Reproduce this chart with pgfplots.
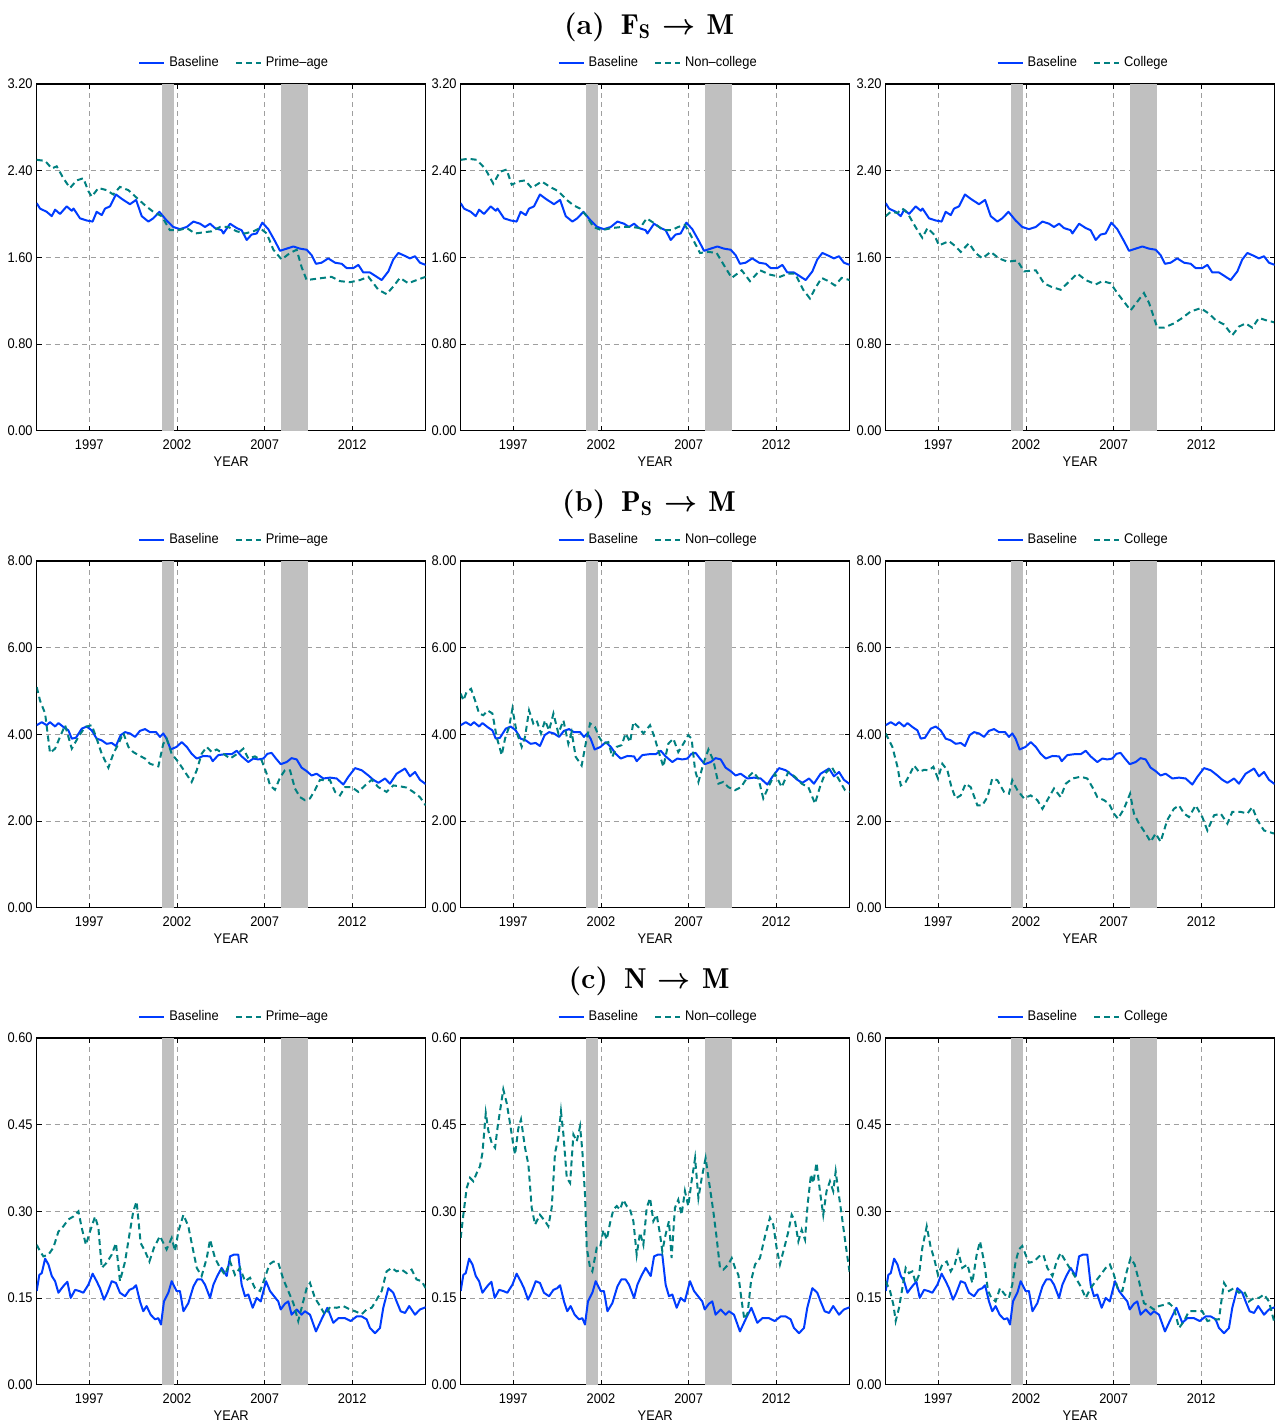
\documentclass[border=0pt]{standalone}
\usepackage{amsmath}
\usepackage{fontspec}
\usepackage{pgfplots}
\usepackage{pgfplotstable}
\pgfplotsset{compat=1.18}
\newfontfamily\arial[FakeStretch=0.92]{Liberation Sans}
\newcommand\tickfont{\arial\fontsize{7}{8.4}\selectfont}
\newcommand\titlefont{\fontsize{14.4}{17}\selectfont\bfseries}
\newcommand\barrow{\mathrel{\boldsymbol{\rightarrow}}}
\definecolor{blu}{RGB}{0,60,255}
\definecolor{tea}{RGB}{0,128,128}
\definecolor{recg}{RGB}{192,192,192}

% ---------- row (a) ----------
\pgfplotstableread{
x y
1994.00 2.10
1994.19 2.05
1994.57 2.02
1994.86 1.98
1995.05 2.04
1995.33 2.00
1995.71 2.07
1996.00 2.03
1996.10 2.05
1996.47 1.96
1996.85 1.94
1997.19 1.93
1997.42 2.02
1997.71 1.99
1997.90 2.05
1998.18 2.07
1998.52 2.18
1998.85 2.14
1999.32 2.09
1999.67 2.13
1999.99 1.98
2000.37 1.93
2000.65 1.96
2001.00 2.02
2001.41 1.94
2001.79 1.88
2002.17 1.86
2002.56 1.88
2002.94 1.93
2003.32 1.91
2003.60 1.88
2003.89 1.91
2004.17 1.87
2004.55 1.85
2004.65 1.82
2005.03 1.91
2005.41 1.87
2005.69 1.85
2005.98 1.76
2006.26 1.81
2006.55 1.82
2006.87 1.92
2007.21 1.86
2007.59 1.75
2007.88 1.66
2008.26 1.68
2008.64 1.70
2009.02 1.68
2009.40 1.67
2009.68 1.62
2009.93 1.54
2010.25 1.55
2010.63 1.59
2011.02 1.55
2011.40 1.54
2011.68 1.50
2012.06 1.50
2012.35 1.53
2012.63 1.46
2013.01 1.46
2013.30 1.43
2013.68 1.39
2014.06 1.47
2014.34 1.58
2014.63 1.64
2014.91 1.62
2015.29 1.59
2015.58 1.61
2015.86 1.55
2016.19 1.53
}\bA
\pgfplotstableread{
x y
1994.00 2.50
1994.48 2.49
1994.86 2.42
1995.14 2.44
1995.52 2.33
1995.90 2.24
1996.28 2.31
1996.66 2.33
1996.95 2.21
1997.14 2.16
1997.52 2.24
1997.99 2.22
1998.37 2.18
1998.75 2.25
1999.23 2.22
1999.70 2.15
2000.18 2.08
2000.65 2.02
2001.13 1.98
2001.60 1.85
2002.08 1.85
2002.56 1.87
2003.03 1.82
2003.51 1.83
2003.98 1.84
2004.46 1.88
2004.93 1.88
2005.41 1.84
2005.88 1.82
2006.36 1.84
2006.74 1.87
2007.12 1.82
2007.50 1.67
2007.97 1.58
2008.45 1.64
2008.83 1.67
2009.11 1.51
2009.40 1.39
2009.87 1.40
2010.35 1.41
2010.82 1.42
2011.30 1.38
2011.87 1.37
2012.44 1.39
2012.92 1.42
2013.49 1.30
2013.96 1.26
2014.34 1.33
2014.72 1.41
2015.20 1.36
2015.67 1.39
2016.19 1.42
}\pA
\pgfplotstableread{
x y
1994.00 2.50
1994.44 2.51
1994.91 2.50
1995.39 2.42
1995.86 2.28
1996.24 2.39
1996.62 2.41
1996.91 2.27
1997.29 2.30
1997.67 2.31
1998.05 2.24
1998.62 2.30
1999.10 2.25
1999.57 2.21
2000.05 2.13
2000.43 2.08
2000.81 2.05
2001.19 1.98
2001.57 1.88
2002.04 1.85
2002.61 1.87
2003.18 1.88
2003.75 1.88
2004.23 1.87
2004.61 1.96
2005.08 1.91
2005.56 1.85
2006.03 1.85
2006.41 1.88
2006.79 1.90
2007.17 1.79
2007.65 1.64
2008.13 1.65
2008.60 1.64
2009.08 1.51
2009.46 1.41
2010.03 1.48
2010.50 1.38
2011.07 1.48
2011.64 1.44
2012.21 1.42
2012.69 1.45
2013.07 1.45
2013.54 1.30
2013.92 1.22
2014.21 1.31
2014.59 1.41
2014.97 1.38
2015.35 1.34
2015.73 1.41
2016.19 1.39
}\nA
\pgfplotstableread{
x y
1994.00 1.98
1994.29 2.02
1994.67 2.01
1994.95 2.05
1995.24 2.01
1995.52 1.93
1995.81 1.85
1996.09 1.78
1996.38 1.87
1996.76 1.81
1997.04 1.71
1997.33 1.73
1997.61 1.75
1997.99 1.70
1998.28 1.65
1998.75 1.73
1999.13 1.64
1999.51 1.59
1999.99 1.65
2000.46 1.59
2000.94 1.56
2001.51 1.57
2001.89 1.47
2002.56 1.48
2003.03 1.36
2003.41 1.33
2003.98 1.30
2004.36 1.36
2004.93 1.45
2005.41 1.39
2005.98 1.35
2006.36 1.38
2006.83 1.36
2007.21 1.27
2007.59 1.19
2007.97 1.11
2008.35 1.19
2008.73 1.27
2009.02 1.18
2009.49 0.95
2009.87 0.95
2010.44 0.99
2010.92 1.04
2011.40 1.10
2011.97 1.13
2012.44 1.08
2012.82 1.02
2013.30 0.98
2013.77 0.88
2014.15 0.96
2014.53 0.99
2014.91 0.95
2015.29 1.04
2015.67 1.02
2016.15 1.00
}\cA

% ---------- row (b) ----------
\pgfplotstableread{
x y
1994.00 4.21
1994.29 4.28
1994.57 4.21
1994.76 4.28
1995.05 4.18
1995.24 4.26
1995.52 4.17
1995.81 4.09
1996.00 3.90
1996.24 3.92
1996.57 4.13
1996.85 4.18
1997.14 4.09
1997.42 3.90
1997.71 3.86
1997.99 3.78
1998.28 3.80
1998.52 3.73
1998.79 3.98
1999.04 4.05
1999.32 4.02
1999.61 3.94
1999.89 4.08
2000.18 4.12
2000.46 4.05
2000.81 4.05
2001.03 3.94
2001.22 4.02
2001.41 3.90
2001.64 3.65
2001.98 3.71
2002.27 3.82
2002.56 3.71
2002.84 3.55
2003.13 3.44
2003.51 3.50
2003.89 3.49
2004.04 3.38
2004.36 3.52
2004.74 3.54
2005.12 3.54
2005.41 3.62
2005.69 3.49
2006.07 3.36
2006.36 3.44
2006.64 3.42
2006.93 3.44
2007.16 3.55
2007.40 3.57
2007.65 3.44
2007.92 3.31
2008.26 3.36
2008.54 3.45
2008.83 3.42
2009.11 3.23
2009.40 3.15
2009.68 3.05
2009.97 3.09
2010.35 2.98
2010.73 3.00
2011.11 2.98
2011.49 2.84
2011.78 3.02
2012.16 3.22
2012.54 3.17
2012.92 3.05
2013.20 2.95
2013.49 2.88
2013.87 2.98
2014.15 2.86
2014.53 3.09
2015.01 3.21
2015.29 3.03
2015.58 3.13
2015.86 2.95
2016.19 2.85
}\bB
\pgfplotstableread{
x y
1994.00 5.09
1994.19 4.78
1994.48 4.48
1994.76 3.57
1995.05 3.67
1995.33 3.94
1995.62 4.21
1996.00 3.67
1996.38 3.94
1996.76 4.17
1997.14 4.21
1997.42 3.90
1997.71 3.55
1998.09 3.23
1998.37 3.55
1998.66 3.78
1998.94 4.03
1999.23 3.71
1999.51 3.59
1999.80 3.52
2000.18 3.44
2000.46 3.32
2000.94 3.26
2001.22 3.78
2001.41 3.90
2001.70 3.55
2002.08 3.36
2002.46 3.13
2002.84 2.90
2003.13 3.17
2003.41 3.55
2003.70 3.71
2003.98 3.59
2004.27 3.65
2004.65 3.55
2005.03 3.44
2005.41 3.54
2005.79 3.67
2006.07 3.44
2006.45 3.49
2006.83 3.40
2007.12 3.09
2007.31 2.82
2007.59 2.72
2007.88 3.00
2008.16 3.17
2008.45 3.17
2008.73 2.75
2009.02 2.55
2009.30 2.48
2009.59 2.52
2009.87 2.71
2010.16 2.95
2010.44 2.94
2010.73 2.94
2011.02 2.67
2011.30 2.59
2011.59 2.78
2011.97 2.78
2012.35 2.67
2012.73 2.82
2013.11 2.95
2013.49 2.78
2013.96 2.67
2014.34 2.82
2014.72 2.80
2015.10 2.77
2015.48 2.67
2015.86 2.55
2016.19 2.36
}\pB
\pgfplotstableread{
x y
1994.00 4.94
1994.15 4.78
1994.34 4.98
1994.59 5.05
1994.82 4.78
1995.05 4.48
1995.29 4.44
1995.54 4.55
1995.81 4.48
1996.05 3.94
1996.34 3.52
1996.53 3.90
1996.76 4.17
1996.95 4.59
1997.19 4.05
1997.48 3.71
1997.67 3.94
1997.90 4.55
1998.14 4.25
1998.33 4.32
1998.58 4.02
1998.81 4.32
1999.04 4.09
1999.29 4.48
1999.57 4.02
1999.86 4.32
2000.14 3.78
2000.33 4.05
2000.56 3.48
2000.90 3.28
2001.13 3.78
2001.38 4.25
2001.66 4.17
2001.89 3.94
2002.14 3.78
2002.42 3.82
2002.65 3.48
2002.90 3.71
2003.18 3.75
2003.41 4.02
2003.66 3.82
2003.85 4.28
2004.13 4.17
2004.42 4.02
2004.80 4.21
2005.05 3.94
2005.27 3.63
2005.56 3.25
2005.84 3.78
2006.13 3.90
2006.41 3.59
2006.70 3.78
2006.98 3.98
2007.17 3.90
2007.37 3.17
2007.56 2.90
2007.84 3.32
2008.13 3.65
2008.41 3.40
2008.70 2.86
2008.98 2.90
2009.27 2.78
2009.65 2.71
2009.99 2.78
2010.31 2.98
2010.69 3.13
2010.98 2.98
2011.26 2.52
2011.64 2.86
2011.93 3.09
2012.31 2.78
2012.69 3.13
2013.07 3.02
2013.45 2.86
2013.83 2.78
2014.21 2.40
2014.49 2.78
2014.78 3.09
2015.16 3.25
2015.54 2.98
2015.92 2.71
2016.19 2.67
}\nB
\pgfplotstableread{
x y
1994.00 4.02
1994.38 3.71
1994.67 3.25
1994.86 2.82
1995.14 2.90
1995.39 3.09
1995.62 3.28
1995.90 3.13
1996.19 3.18
1996.47 3.17
1996.72 3.25
1996.98 2.98
1997.23 3.32
1997.52 3.17
1997.75 2.78
1997.99 2.52
1998.28 2.59
1998.56 2.86
1998.85 2.78
1999.23 2.36
1999.51 2.36
1999.80 2.55
2000.08 2.98
2000.37 2.94
2000.75 2.67
2001.03 2.63
2001.22 2.94
2001.51 2.71
2001.89 2.52
2002.27 2.59
2002.65 2.48
2002.94 2.28
2003.22 2.48
2003.60 2.75
2003.98 2.55
2004.27 2.86
2004.65 2.98
2005.12 3.02
2005.50 2.98
2005.79 2.78
2006.07 2.55
2006.45 2.48
2006.74 2.40
2007.02 2.17
2007.25 2.05
2007.59 2.28
2007.94 2.63
2008.16 2.17
2008.45 1.94
2008.83 1.71
2009.11 1.52
2009.40 1.71
2009.68 1.52
2010.06 2.02
2010.44 2.28
2010.73 2.36
2011.02 2.17
2011.30 2.09
2011.68 2.36
2012.06 2.09
2012.35 1.78
2012.73 2.13
2013.11 2.17
2013.49 1.94
2013.77 2.21
2014.25 2.21
2014.63 2.17
2014.91 2.32
2015.20 2.02
2015.58 1.78
2016.15 1.71
}\cB

% ---------- row (c) ----------
\pgfplotstableread{
x y
1994.00 0.162
1994.15 0.190
1994.29 0.193
1994.48 0.218
1994.67 0.208
1994.86 0.188
1995.05 0.179
1995.24 0.159
1995.43 0.167
1995.62 0.174
1995.75 0.178
1995.94 0.150
1996.19 0.164
1996.43 0.162
1996.66 0.159
1996.95 0.173
1997.19 0.192
1997.42 0.179
1997.61 0.167
1997.84 0.147
1998.03 0.159
1998.28 0.179
1998.52 0.176
1998.75 0.159
1999.04 0.153
1999.29 0.164
1999.51 0.167
1999.67 0.172
1999.89 0.144
2000.08 0.127
2000.27 0.136
2000.50 0.121
2000.75 0.113
2000.94 0.115
2001.09 0.104
2001.26 0.144
2001.51 0.159
2001.70 0.179
2001.98 0.162
2002.17 0.162
2002.37 0.127
2002.65 0.141
2002.94 0.170
2003.16 0.182
2003.41 0.182
2003.60 0.173
2003.89 0.150
2004.08 0.173
2004.30 0.188
2004.55 0.202
2004.84 0.188
2005.03 0.222
2005.25 0.225
2005.50 0.225
2005.69 0.173
2005.88 0.153
2006.07 0.156
2006.32 0.133
2006.55 0.150
2006.78 0.144
2007.08 0.179
2007.31 0.162
2007.54 0.153
2007.78 0.144
2007.92 0.130
2008.16 0.140
2008.35 0.144
2008.54 0.121
2008.83 0.130
2009.11 0.121
2009.30 0.127
2009.59 0.121
2009.93 0.092
2010.25 0.113
2010.58 0.133
2010.92 0.107
2011.21 0.115
2011.59 0.115
2011.91 0.110
2012.25 0.118
2012.54 0.118
2012.82 0.113
2013.01 0.098
2013.30 0.089
2013.58 0.098
2013.77 0.133
2014.06 0.167
2014.34 0.159
2014.53 0.144
2014.76 0.127
2015.01 0.124
2015.25 0.136
2015.58 0.121
2015.86 0.130
2016.19 0.134
}\bC
\pgfplotstableread{
x y
1994.00 0.242
1994.19 0.231
1994.38 0.222
1994.67 0.225
1994.95 0.237
1995.24 0.265
1995.52 0.274
1995.81 0.286
1996.09 0.291
1996.38 0.300
1996.57 0.271
1996.81 0.242
1997.04 0.265
1997.33 0.291
1997.52 0.271
1997.71 0.202
1997.99 0.211
1998.28 0.225
1998.52 0.245
1998.75 0.179
1999.04 0.213
1999.29 0.260
1999.51 0.300
1999.70 0.317
1999.93 0.245
2000.18 0.231
2000.43 0.213
2000.69 0.237
2001.03 0.257
2001.41 0.234
2001.70 0.254
2001.89 0.231
2002.08 0.265
2002.37 0.294
2002.65 0.274
2002.84 0.245
2003.13 0.202
2003.41 0.188
2003.70 0.219
2003.89 0.251
2004.17 0.219
2004.46 0.202
2004.74 0.190
2005.03 0.213
2005.31 0.190
2005.60 0.202
2005.88 0.179
2006.17 0.185
2006.45 0.167
2006.74 0.162
2007.02 0.185
2007.27 0.208
2007.50 0.213
2007.78 0.211
2008.07 0.182
2008.35 0.162
2008.64 0.141
2008.92 0.110
2009.11 0.133
2009.40 0.167
2009.59 0.176
2009.87 0.150
2010.16 0.136
2010.44 0.121
2010.73 0.134
2011.11 0.133
2011.49 0.136
2011.87 0.130
2012.16 0.127
2012.54 0.122
2012.82 0.130
2013.11 0.133
2013.39 0.147
2013.68 0.162
2013.96 0.196
2014.25 0.202
2014.53 0.196
2014.82 0.199
2015.10 0.193
2015.39 0.199
2015.67 0.182
2015.96 0.179
2016.19 0.167
}\pC
\pgfplotstableread{
x y
1994.00 0.254
1994.15 0.294
1994.34 0.340
1994.53 0.358
1994.72 0.352
1994.91 0.366
1995.10 0.378
1995.24 0.401
1995.43 0.470
1995.58 0.439
1995.77 0.418
1995.96 0.410
1996.11 0.447
1996.24 0.473
1996.43 0.511
1996.62 0.488
1996.81 0.453
1997.00 0.415
1997.10 0.398
1997.29 0.444
1997.44 0.459
1997.67 0.410
1997.86 0.381
1998.05 0.306
1998.24 0.277
1998.52 0.294
1998.81 0.283
1999.00 0.274
1999.19 0.306
1999.38 0.401
1999.57 0.427
1999.72 0.473
1999.86 0.433
2000.05 0.358
2000.24 0.349
2000.43 0.433
2000.62 0.421
2000.81 0.447
2000.94 0.404
2001.09 0.329
2001.19 0.237
2001.38 0.202
2001.51 0.196
2001.76 0.237
2001.95 0.237
2002.14 0.268
2002.33 0.251
2002.52 0.280
2002.71 0.303
2002.90 0.309
2003.09 0.303
2003.28 0.320
2003.47 0.309
2003.66 0.303
2003.85 0.283
2004.04 0.225
2004.23 0.263
2004.42 0.242
2004.61 0.306
2004.80 0.323
2004.99 0.283
2005.18 0.294
2005.37 0.260
2005.50 0.231
2005.69 0.260
2005.88 0.283
2006.03 0.219
2006.22 0.306
2006.41 0.320
2006.60 0.294
2006.79 0.335
2006.98 0.309
2007.17 0.352
2007.37 0.392
2007.56 0.323
2007.75 0.358
2007.97 0.392
2008.22 0.340
2008.41 0.300
2008.60 0.254
2008.79 0.202
2008.98 0.199
2009.27 0.208
2009.46 0.219
2009.65 0.202
2009.84 0.190
2010.03 0.144
2010.18 0.113
2010.37 0.124
2010.56 0.179
2010.79 0.208
2011.07 0.219
2011.36 0.257
2011.64 0.289
2011.83 0.277
2012.02 0.237
2012.21 0.208
2012.50 0.242
2012.69 0.265
2012.88 0.294
2013.07 0.283
2013.26 0.248
2013.45 0.268
2013.64 0.251
2013.79 0.312
2013.98 0.364
2014.11 0.349
2014.30 0.384
2014.49 0.335
2014.68 0.294
2014.87 0.335
2015.06 0.352
2015.25 0.335
2015.39 0.369
2015.54 0.335
2015.73 0.294
2015.96 0.242
2016.19 0.193
}\nC
\pgfplotstableread{
x y
1994.00 0.179
1994.25 0.162
1994.44 0.138
1994.57 0.110
1994.76 0.133
1994.95 0.167
1995.14 0.202
1995.33 0.193
1995.52 0.196
1995.71 0.176
1995.90 0.190
1996.09 0.237
1996.34 0.274
1996.57 0.237
1996.76 0.219
1996.98 0.190
1997.23 0.208
1997.48 0.213
1997.71 0.196
1997.94 0.208
1998.13 0.231
1998.37 0.202
1998.66 0.208
1998.94 0.176
1999.19 0.225
1999.38 0.248
1999.61 0.213
1999.84 0.162
2000.03 0.150
2000.27 0.144
2000.52 0.167
2000.79 0.156
2001.03 0.150
2001.22 0.173
2001.41 0.213
2001.60 0.234
2001.79 0.240
2001.98 0.225
2002.17 0.211
2002.46 0.213
2002.75 0.222
2002.99 0.225
2003.22 0.202
2003.51 0.188
2003.75 0.213
2003.98 0.228
2004.27 0.213
2004.55 0.199
2004.84 0.185
2005.12 0.170
2005.41 0.150
2005.69 0.167
2005.98 0.179
2006.26 0.190
2006.55 0.202
2006.79 0.208
2007.02 0.190
2007.25 0.164
2007.50 0.162
2007.75 0.196
2007.97 0.219
2008.20 0.208
2008.45 0.179
2008.73 0.141
2009.02 0.136
2009.30 0.130
2009.59 0.136
2009.87 0.138
2010.16 0.141
2010.44 0.133
2010.73 0.098
2011.02 0.110
2011.30 0.127
2011.68 0.127
2012.06 0.127
2012.35 0.110
2012.73 0.113
2013.01 0.113
2013.20 0.156
2013.30 0.176
2013.58 0.162
2013.87 0.167
2014.15 0.159
2014.44 0.162
2014.72 0.144
2015.01 0.150
2015.29 0.150
2015.58 0.156
2015.86 0.144
2016.15 0.110
}\cC

\pgfplotsset{
  panel/.style={
    scale only axis, width=194.5pt, height=173.3pt, anchor=north west,
    xmin=1994, xmax=2016.19, ymin=0,
    xtick={1997,2002,2007,2012},
    /pgf/number format/assume math mode=true,
    tick label style={font=\tickfont},
    xticklabel style={/pgf/number format/1000 sep={}, yshift=-0.8pt},
    yticklabel style={/pgf/number format/fixed,/pgf/number format/fixed zerofill,/pgf/number format/precision=2, xshift=1.5pt},
    xmajorgrids, ymajorgrids,
    grid style={gray!75, dash pattern=on 2.5pt off 2pt, line width=0.35pt},
    tick align=inside, tick pos=both, major tick length=2.5pt,
    tick style={black, line width=0.4pt},
    axis line style={line width=0.6pt},
    xlabel={YEAR}, xlabel style={font=\tickfont, yshift=3pt},
    legend columns=2,
    legend style={at={(0.5,1)}, anchor=south, yshift=5pt, xshift=2pt, draw=none, fill=none,
      font=\tickfont, inner sep=0pt,
      /tikz/every even column/.append style={column sep=6pt}},
    legend image code/.code={\draw[#1] (0pt,0pt) -- (12.5pt,0pt);},
  },
  recband/.style={fill=recg, draw=none, forget plot},
  base/.style={color=blu, solid, line width=1pt, line join=round},
  comp/.style={color=tea, line width=1pt, dash pattern=on 3pt off 2pt},
}
\newcommand\rec[1]{%
  \addplot[recband] coordinates {(2001.17,#1) (2001.83,#1)} \closedcycle;
  \addplot[recband] coordinates {(2007.92,#1) (2009.47,#1)} \closedcycle;}

\begin{document}
\begin{tikzpicture}
\useasboundingbox (0,0) rectangle (639.5pt,-712.5pt);

% titles
\node[anchor=base] at (324.5pt,-17pt) {\titlefont (a)\kern2.5pt\ $\mathbf{F}_{\mathbf{S}}\mkern2mu\barrow\mkern2mu\mathbf{M}$};
\node[anchor=base] at (324.5pt,-255.5pt) {\titlefont (b)\kern2.5pt\ $\mathbf{P}_{\mathbf{S}}\mkern2mu\barrow\mkern2mu\mathbf{M}$};
\node[anchor=base] at (324.5pt,-494pt) {\titlefont (c)\kern2.5pt\ $\mathbf{N}\mkern2mu\barrow\mkern2mu\mathbf{M}$};

% ---- row a ----
\begin{axis}[panel, at={(18.35pt,-42pt)}, ymax=3.2, ytick={0,0.8,1.6,2.4,3.2}]
\rec{3.2}
\addplot[base] table {\bA};
\addplot[comp] table {\pA};
\legend{Baseline,Prime–age}
\end{axis}
\begin{axis}[panel, at={(230.35pt,-42pt)}, ymax=3.2, ytick={0,0.8,1.6,2.4,3.2}]
\rec{3.2}
\addplot[base] table {\bA};
\addplot[comp] table {\nA};
\legend{Baseline,Non–college}
\end{axis}
\begin{axis}[panel, at={(442.85pt,-42pt)}, ymax=3.2, ytick={0,0.8,1.6,2.4,3.2}]
\rec{3.2}
\addplot[base] table {\bA};
\addplot[comp] table {\cA};
\legend{Baseline,College}
\end{axis}

% ---- row b ----
\begin{axis}[panel, at={(18.35pt,-280.5pt)}, ymax=8, ytick={0,2,4,6,8}]
\rec{8}
\addplot[base] table {\bB};
\addplot[comp] table {\pB};
\legend{Baseline,Prime–age}
\end{axis}
\begin{axis}[panel, at={(230.35pt,-280.5pt)}, ymax=8, ytick={0,2,4,6,8}]
\rec{8}
\addplot[base] table {\bB};
\addplot[comp] table {\nB};
\legend{Baseline,Non–college}
\end{axis}
\begin{axis}[panel, at={(442.85pt,-280.5pt)}, ymax=8, ytick={0,2,4,6,8}]
\rec{8}
\addplot[base] table {\bB};
\addplot[comp] table {\cB};
\legend{Baseline,College}
\end{axis}

% ---- row c ----
\begin{axis}[panel, at={(18.35pt,-519pt)}, ymax=0.6, ytick={0,0.15,0.3,0.45,0.6}]
\rec{0.6}
\addplot[base] table {\bC};
\addplot[comp] table {\pC};
\legend{Baseline,Prime–age}
\end{axis}
\begin{axis}[panel, at={(230.35pt,-519pt)}, ymax=0.6, ytick={0,0.15,0.3,0.45,0.6}]
\rec{0.6}
\addplot[base] table {\bC};
\addplot[comp] table {\nC};
\legend{Baseline,Non–college}
\end{axis}
\begin{axis}[panel, at={(442.85pt,-519pt)}, ymax=0.6, ytick={0,0.15,0.3,0.45,0.6}]
\rec{0.6}
\addplot[base] table {\bC};
\addplot[comp] table {\cC};
\legend{Baseline,College}
\end{axis}
\end{tikzpicture}
\end{document}
